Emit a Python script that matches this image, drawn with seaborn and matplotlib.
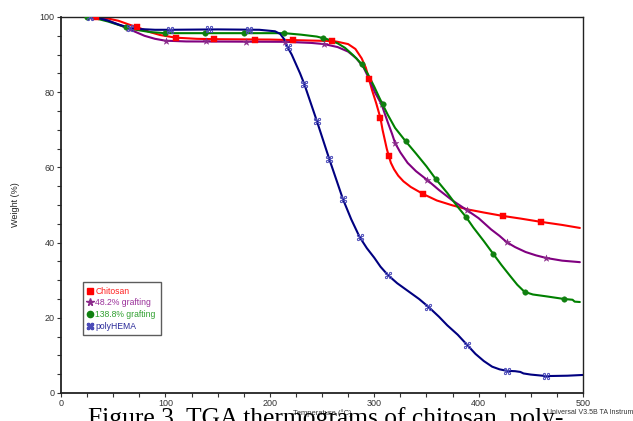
import matplotlib
matplotlib.use("Agg")
import matplotlib.pyplot as plt
from matplotlib.lines import Line2D
from matplotlib.ticker import MultipleLocator
import pandas as pd
import seaborn as sns


sns.set_theme(style="white")
plt.rcParams['font.family'] = ['Liberation Sans', 'DejaVu Sans']

# curves (temperature in C, weight in %)
chitosan_t = [30, 40, 55, 65, 73, 85, 95, 110, 130, 147, 200, 260, 265, 275, 282, 288, 292, 295,
              298, 302, 306, 308, 310, 312, 314, 316, 319, 323, 328, 335, 347, 360, 375, 390,
              405, 423, 440, 460, 480, 497]
chitosan_w = [100, 99.9, 99, 98, 97.3, 96, 95.2, 94.5, 94.2, 94.1, 94.0, 93.6, 93.4, 92.8, 91.5,
              89, 86.5, 83.5, 80.5, 77, 73.1, 70, 67.5, 65, 63, 61.2, 59.5, 57.8, 56.3, 54.8,
              52.9, 51.2, 49.9, 48.8, 48.0, 47.1, 46.4, 45.5, 44.7, 43.9]

graft48_t = [28, 40, 55, 70, 80, 90, 100, 120, 215, 240, 252, 265, 275, 283, 290, 296, 301, 307,
             313, 317, 320, 325, 332, 340, 351, 362, 375, 389, 400, 412, 420, 427, 435, 445,
             455, 465, 480, 497]
graft48_w = [100, 99.6, 98, 96.2, 95, 94.2, 93.7, 93.5, 93.4, 93.1, 92.8, 92, 90.8, 89, 86.5,
             83, 79.8, 76.8, 72, 69, 66.5, 64, 61.2, 59, 56.6, 54, 51.2, 48.6, 46.5, 43.5, 41.8,
             40.1, 38.8, 37.5, 36.6, 35.9, 35.2, 34.8]

graft138_t = [25, 35, 45, 55, 62, 72, 85, 100, 214, 230, 245, 255, 265, 272, 280, 288, 294, 300,
              305, 308, 313, 320, 330, 340, 350, 359, 370, 380, 388, 395, 405, 414, 422, 430,
              437, 444, 452, 465, 482, 490, 492, 497]
graft138_w = [100, 99.5, 98.8, 97.9, 97.3, 96.6, 96, 95.7, 95.7, 95.3, 94.8, 94.1, 93, 91.8,
              89.8, 87.5, 84.8, 81.5, 78.5, 76.8, 74, 70.5, 67, 63.7, 60.3, 56.9, 53.2, 49.5,
              46.8, 44, 40.4, 37, 34, 31.2, 28.8, 26.9, 26.2, 25.7, 25.0, 24.8, 24.3, 24.2]

hema_t = [25, 35, 45, 55, 65, 75, 90, 104, 150, 190, 205, 210, 214, 217, 221, 225, 229, 233, 239,
          245, 251, 257, 264, 270, 278, 286, 293, 300, 306, 313, 322, 333, 343, 352, 362, 370,
          380, 389, 397, 405, 413, 420, 427, 435, 440, 443, 450, 465, 485, 500]
hema_w = [100, 99.8, 99, 98, 97.2, 96.8, 96.6, 96.6, 96.7, 96.6, 96.2, 95.5, 94, 92, 90, 87.5,
          85, 82.2, 77.3, 72.4, 67.3, 62.2, 56.5, 51.6, 46.2, 41.5, 38.5, 36, 33.6, 31.4, 29.2,
          27, 25, 22.9, 20.3, 18, 15.5, 12.8, 10.4, 8.5, 7, 6.3, 5.9, 5.8, 5.6, 5.2, 4.9, 4.5,
          4.6, 4.8]

# symbol positions on each curve
chitosan_mt = [34, 73, 110, 147, 186, 222, 260, 295, 306, 314, 347, 423, 460]
chitosan_mw = [100, 97.3, 94.5, 94.1, 94.0, 94.0, 93.6, 83.5, 73.1, 63, 52.9, 47.1, 45.5]
graft48_mt = [28, 64, 101, 139, 177, 215, 252, 307, 320, 351, 389, 427, 465]
graft48_mw = [100, 97, 93.6, 93.5, 93.4, 93.4, 92.8, 76.8, 66.5, 56.6, 48.6, 40.1, 35.9]
graft138_mt = [25, 62, 100, 138, 175, 214, 251, 288, 308, 330, 359, 388, 414, 444, 482]
graft138_mw = [100, 97.3, 95.7, 95.7, 95.7, 95.7, 94.4, 87.5, 76.8, 67, 56.9, 46.8, 37, 26.9, 25.0]
hema_mt = [28, 66, 104, 142, 180, 217, 233, 245, 257, 270, 286, 313, 352, 389, 427, 465]
hema_mw = [100, 97.1, 96.6, 96.7, 96.6, 92, 82.2, 72.4, 62.2, 51.6, 41.5, 31.4, 22.9, 12.8, 5.9, 4.5]

labels = ['Chitosan', '48.2% grafting', '138.8% grafting', 'polyHEMA']
line_colors = ['#ff0000', '#800080', '#008000', '#000080']
marker_colors = ['#ff0000', '#8a2a8a', '#108010', '#4a4ab8']
text_colors = ['#ff2020', '#9a309a', '#30a030', '#2a2a9a']
markers = ['s', '*', 'o', '$\u2318$']
msizes = [16, 26, 16, 24]

curves = [(chitosan_t, chitosan_w), (graft48_t, graft48_w),
          (graft138_t, graft138_w), (hema_t, hema_w)]
marks = [(chitosan_mt, chitosan_mw), (graft48_mt, graft48_mw),
         (graft138_mt, graft138_mw), (hema_mt, hema_mw)]

fig = plt.figure(figsize=(6.33, 4.21), dpi=100)
ax = fig.add_axes([61 / 633, 1 - 393 / 421, 522 / 633, 376 / 421])

for i, name in enumerate(labels):
    df = pd.DataFrame({'T': curves[i][0], 'W': curves[i][1]})
    sns.lineplot(data=df, x='T', y='W', sort=False, color=line_colors[i], lw=1.5, ax=ax)
    dm = pd.DataFrame({'T': marks[i][0], 'W': marks[i][1]})
    sns.scatterplot(data=dm, x='T', y='W', marker=markers[i], s=msizes[i],
                    color=marker_colors[i], edgecolor=marker_colors[i] if i != 3 else None,
                    linewidth=0.3, zorder=5, ax=ax)

ax.set_xlim(0, 500)
ax.set_ylim(0, 100)
ax.xaxis.set_major_locator(MultipleLocator(100))
ax.xaxis.set_minor_locator(MultipleLocator(25))
ax.yaxis.set_major_locator(MultipleLocator(20))
ax.yaxis.set_minor_locator(MultipleLocator(5))
ax.tick_params(which='both', direction='out', length=3, width=0.8, color='#333333',
               labelsize=6.5, labelcolor='#333333', pad=1.5, bottom=True, left=True)
for s in ax.spines.values():
    s.set_color('#222222')
    s.set_linewidth(1.0)
ax.spines['left'].set_linewidth(1.3)
ax.spines['bottom'].set_linewidth(1.3)
ax.set_xlabel('')
ax.set_ylabel('Weight (%)', fontsize=6.5, color='#222222', labelpad=14)

handles = [Line2D([], [], ls='none', marker=markers[i], color=marker_colors[i],
                  markersize=4.5 if i != 1 else 5.5) for i in range(4)]
leg = ax.legend(handles, labels, loc='upper left', bbox_to_anchor=(0.042, 0.295),
                fontsize=6.2, frameon=True, fancybox=False, handlelength=0.6,
                handletextpad=0.3, borderpad=0.55, labelspacing=0.3, borderaxespad=0)
leg.get_frame().set_edgecolor('#333333')
leg.get_frame().set_linewidth(1.0)
for t, c in zip(leg.get_texts(), text_colors):
    t.set_color(c)

fig.text(322 / 633, 1 - 413 / 421, 'Temperature (\u00b0C)', fontsize=5.5, color='#333333',
         ha='center', va='center')
fig.text(547 / 633, 1 - 413 / 421, 'Universal V3.5B TA Instruments', fontsize=5,
         color='#333333', ha='left', va='center')
fig.text(88 / 633, 1 - 425 / 421, 'Figure 3. TGA thermograms of chitosan, poly-',
         fontsize=18.4, family=['Liberation Serif', 'DejaVu Serif'], color='black',
         ha='left', va='baseline')

fig.savefig('out.png', dpi=100)
